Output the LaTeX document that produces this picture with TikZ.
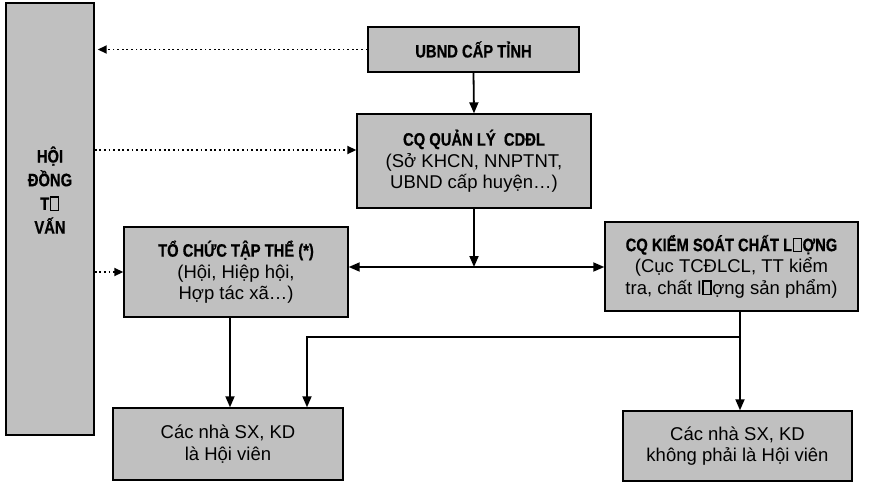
\documentclass[tikz,border=0pt]{standalone}
\usepackage{fontspec}
\setmainfont{Liberation Sans}
\newfontfamily\hfont[FakeStretch=0.82, BoldFeatures={FakeBold=0.6}]{Liberation Sans}
\usetikzlibrary{arrows.meta}
\newcommand\nog{{\kern.04em\fboxsep=0pt\fboxrule=.07em\fbox{\rule{0pt}{.68em}\rule{.36em}{0pt}}\kern.04em}}
\definecolor{boxgray}{HTML}{C0C0C0}
\tikzset{
  box/.style={draw=black, line width=1.4pt, fill=boxgray, align=center, inner sep=2pt},
  conn/.style={line width=1.8pt, -{Triangle[length=11pt,width=9pt]}},
  dotarr/.style={line width=1.8pt, dash pattern=on 1.8pt off 2.8pt, -{Triangle[length=9pt,width=8pt]}},
  hd/.style={font=\hfont\bfseries\fontsize{18}{21.5}\selectfont},
  tx/.style={font=\fontsize{18.5}{21.5}\selectfont}
}
\newcommand\hd[1]{{\hfont\bfseries\fontsize{18}{21.5}\selectfont #1}}
\begin{document}
\begin{tikzpicture}[x=1pt,y=-1pt]
\useasboundingbox (0,0) rectangle (870,483);
% boxes
\node[box, minimum width=88pt, minimum height=432pt] (hdtv) at (50,219) {};
\node[font=\hfont\bfseries\fontsize{18}{23.7}\selectfont, align=center] (hdtvt) at (50,190) {HỘI\\ĐỒNG\\T\nog\\VẤN};
\node[box, minimum width=211pt, minimum height=45pt, hd] (ubnd) at (473.5,49.5) {UBND CẤP TỈNH};
\node[box, minimum width=234pt, minimum height=94pt, tx] (cqql) at (474,161)
  {\hd{CQ QUẢN LÝ\ \ CDĐL}\\(Sở KHCN, NNPTNT,\\UBND cấp huyện…)};
\node[box, minimum width=224pt, minimum height=90pt, tx] (tctt) at (236,272)
  {\hd{TỔ CHỨC TẬP THỂ (*)}\\(Hội, Hiệp hội,\\Hợp tác xã…)};
\node[box, minimum width=253pt, minimum height=89pt, tx] (cqks) at (731.5,266.5)
  {\hd{CQ KIỂM SOÁT CHẤT L\nog ỢNG}\\(Cục TCĐLCL, TT kiểm\\tra, chất l\nog ợng sản phẩm)};
\node[box, minimum width=230pt, minimum height=72pt, tx] (mem) at (228,444)
  {Các nhà SX, KD\\là Hội viên};
\node[box, minimum width=229pt, minimum height=70pt, tx] (nonmem) at (737.5,446)
  {Các nhà SX, KD\\không phải là Hội viên};
% helper coordinates
\coordinate (d2) at (0,150);
\coordinate (hy) at (0,267);
\coordinate (k) at (740,337);
\coordinate (m) at (307,337);
\coordinate (xa) at (230,0);
% dotted connectors
\draw[dotarr, shorten >=3pt] (ubnd.west) -- (hdtv.east |- ubnd.west);
\draw[dotarr] (hdtv.east |- d2) -- (cqql.west |- d2);
\draw[dotarr] (hdtv.east |- tctt.west) -- (tctt.west);
% solid connectors
\draw[conn] (ubnd.south) -- (cqql.north);
\draw[conn, {Triangle[length=11pt,width=9pt]}-{Triangle[length=11pt,width=9pt]}] (tctt.east |- hy) -- (cqks.west |- hy);
\draw[conn] (cqql.south) -- (cqql.south |- hy);
\draw[conn] (k |- cqks.south) -- (k |- nonmem.north);
\draw[conn] (k) -- (m) -- (m |- mem.north);
\draw[conn] (xa |- tctt.south) -- (xa |- mem.north);
\end{tikzpicture}
\end{document}
